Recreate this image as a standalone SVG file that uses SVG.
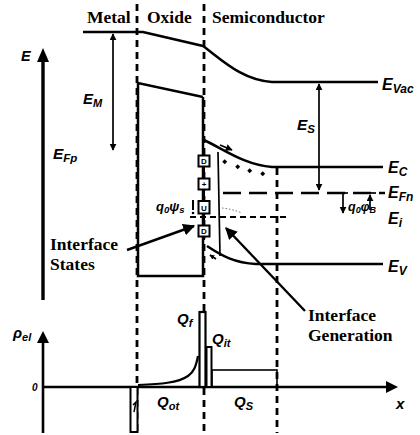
<svg xmlns="http://www.w3.org/2000/svg" width="420" height="435" viewBox="0 0 420 435">
<defs>
<marker id="ah" viewBox="0 0 10 10" refX="9" refY="5" markerWidth="7" markerHeight="7" markerUnits="userSpaceOnUse" orient="auto-start-reverse"><path d="M0,0 L10,5 L0,10 z" fill="#000"/></marker>
<marker id="ahb" viewBox="0 0 10 10" refX="9" refY="5" markerWidth="12" markerHeight="12" markerUnits="userSpaceOnUse" orient="auto-start-reverse"><path d="M0,0 L10,5 L0,10 z" fill="#000"/></marker>
<marker id="ahs" viewBox="0 0 10 10" refX="9" refY="5" markerWidth="5" markerHeight="5" markerUnits="userSpaceOnUse" orient="auto-start-reverse"><path d="M0,0 L10,5 L0,10 z" fill="#000"/></marker>
</defs>
<style>
.ser{font-family:"Liberation Serif","Times New Roman",serif;font-weight:bold;font-size:17.5px;fill:#000}
.sym{font-family:"Liberation Sans",Arial,sans-serif;font-weight:bold;font-style:italic;fill:#000}
.ln{fill:none;stroke:#000;stroke-width:2.5}
.thin{fill:none;stroke:#000;stroke-width:1.7}
.dv{fill:none;stroke:#000;stroke-width:2.8;stroke-dasharray:7,5}
.box{fill:#fff;stroke:#000;stroke-width:2}
.bt{font-family:"Liberation Sans",Arial,sans-serif;font-weight:bold;font-size:8px;fill:#000;text-anchor:middle}
</style>
<rect width="420" height="435" fill="#fff"/>

<g id="region-labels">
<text class="ser" x="87" y="23">Metal</text>
<text class="ser" x="147" y="23">Oxide</text>
<text class="ser" x="212" y="23">Semiconductor</text>
</g>

<g id="boundaries">
<line class="dv" x1="137" y1="4" x2="137" y2="433"/>
<line class="dv" x1="204" y1="4" x2="204" y2="433"/>
<line class="dv" x1="277" y1="168" x2="277" y2="433"/>
</g>

<g id="energy-axis">
<line x1="43" y1="58" x2="43" y2="300" stroke="#000" stroke-width="3.4"/>
<path d="M37,62 L43,48 L49,62 z" fill="#000"/>
<text class="sym" x="21" y="61" font-size="14.5">E</text>
</g>

<g id="vacuum-level">
<path class="ln" d="M83,32 L143,32 L203,46 C222,60 242,80 272,82 L378,82"/>
<text class="sym" x="382" y="90" font-size="16">E<tspan font-size="12" dy="3">Vac</tspan></text>
</g>

<g id="oxide-band">
<path class="ln" d="M203,97 L138,83 L138,276 L203,276 L203,97"/>
</g>

<g id="semiconductor-bands">
<path class="ln" d="M204,140 C225,150 245,165 272,167 L383,167"/>
<path class="ln" d="M207,246 C222,256 235,263 256,264 L383,264"/>
<path class="thin" d="M218,152 L220,256"/>
<line x1="223" y1="193" x2="385" y2="193" stroke="#000" stroke-width="2.4" stroke-dasharray="18,8"/>
<line x1="190" y1="217" x2="290" y2="217" stroke="#000" stroke-width="2.2" stroke-dasharray="6,4"/>
<path d="M222,208 Q232,209 242,213" fill="none" stroke="#666" stroke-width="1" stroke-dasharray="1.5,2"/>
<g fill="#000">
<rect x="223" y="160" width="3.5" height="3.5" transform="rotate(45 224.7 161.7)"/>
<rect x="236" y="165" width="3.5" height="3.5" transform="rotate(45 237.7 166.7)"/>
<rect x="248" y="169" width="3.5" height="3.5" transform="rotate(45 249.7 170.7)"/>
<rect x="261" y="172" width="3.5" height="3.5" transform="rotate(45 262.7 173.7)"/>
</g>
<line class="thin" x1="220" y1="145" x2="232" y2="150" marker-end="url(#ah)"/>
<line class="thin" x1="216" y1="259" x2="210" y2="255" marker-end="url(#ahs)"/>
<text class="sym" x="388" y="173" font-size="16">E<tspan font-size="12" dy="3">C</tspan></text>
<text class="sym" x="388" y="198" font-size="16">E<tspan font-size="12" dy="3">Fn</tspan></text>
<text class="sym" x="388" y="224" font-size="16">E<tspan font-size="12" dy="3">i</tspan></text>
<text class="sym" x="388" y="272" font-size="16">E<tspan font-size="12" dy="3">V</tspan></text>
</g>

<g id="EM">
<line class="thin" x1="113" y1="34" x2="113" y2="150" marker-start="url(#ah)" marker-end="url(#ah)"/>
<text class="sym" x="83" y="104" font-size="15">E<tspan font-size="11" dy="3">M</tspan></text>
</g>

<g id="EFp">
<text class="sym" x="53" y="159" font-size="15.5">E<tspan font-size="11.5" dy="3">Fp</tspan></text>
</g>

<g id="ES">
<line class="thin" x1="319" y1="84" x2="319" y2="190" marker-start="url(#ah)" marker-end="url(#ah)"/>
<text class="sym" x="297" y="130" font-size="15.5">E<tspan font-size="11.5" dy="3">S</tspan></text>
</g>

<g id="qphiB">
<line class="thin" x1="338" y1="193" x2="348" y2="193"/>
<line class="thin" x1="343" y1="193" x2="343" y2="213" marker-end="url(#ah)"/>
<line class="thin" x1="365" y1="193" x2="376" y2="193"/>
<line class="thin" x1="370" y1="210" x2="370" y2="195" marker-end="url(#ah)"/>
<text class="sym" x="348" y="211" font-size="12.5">q<tspan font-size="9" dy="2">0</tspan><tspan dy="-2">φ</tspan><tspan font-size="9" dy="2">B</tspan></text>
</g>

<g id="interface-states">
<line x1="204" y1="150" x2="204" y2="240" stroke="#000" stroke-width="2"/>
<rect class="box" x="198.5" y="155.5" width="11" height="11"/><text class="bt" x="204" y="164">D</text>
<rect class="box" x="198.5" y="178.5" width="11" height="11"/><text class="bt" x="204" y="187">+</text>
<rect class="box" x="198.5" y="201" width="11" height="12.5"/><text class="bt" x="204" y="210.5">U</text>
<rect class="box" x="198.5" y="225.5" width="11" height="11"/><text class="bt" x="204" y="234">D</text>
<line x1="193" y1="200" x2="193" y2="210" stroke="#000" stroke-width="2"/>
<circle cx="193" cy="213" r="1.3" fill="#000"/>
<text class="sym" x="156" y="211" font-size="13">q<tspan font-size="9.5" dy="2">0</tspan><tspan dy="-2">ψ</tspan><tspan font-size="9.5" dy="2">s</tspan></text>
</g>

<g id="interface-states-label">
<text class="ser" x="50" y="250">Interface</text>
<text class="ser" x="50" y="270">States</text>
</g>

<g id="interface-generation-label">
<text class="ser" x="308" y="321">Interface</text>
<text class="ser" x="308" y="341">Generation</text>
</g>

<g id="connectors">
<line x1="127" y1="250" x2="194" y2="226" stroke="#000" stroke-width="2.4" marker-end="url(#ahb)"/>
<line x1="305" y1="311" x2="226" y2="228" stroke="#000" stroke-width="2.4" marker-end="url(#ahb)"/>
</g>

<g id="charge-axes">
<line x1="43" y1="340" x2="43" y2="433" stroke="#000" stroke-width="2.6"/>
<path d="M37,343 L43,331 L49,343 z" fill="#000"/>
<line x1="43" y1="387" x2="390" y2="387" stroke="#000" stroke-width="2.6"/>
<path d="M386,381 L398,387 L386,393 z" fill="#000"/>
<text class="sym" x="13" y="338" font-size="15">ρ<tspan font-size="11" dy="3">el</tspan></text>
<text class="sym" x="32" y="391" font-size="10" font-style="normal">0</text>
<text class="sym" x="396" y="409" font-size="15">x</text>
</g>

<g id="charges">
<rect x="130.5" y="387" width="7" height="45" fill="#fff" stroke="#000" stroke-width="2"/>
<path d="M133,405 L136,402 L134,412" fill="none" stroke="#000" stroke-width="1.5"/>
<path d="M138,385 C160,384 178,383 188,376 C194,372 196,366 198,356" fill="none" stroke="#000" stroke-width="2.2"/>
<rect x="199.5" y="312" width="6" height="75" fill="#fff" stroke="#000" stroke-width="2.2"/>
<rect x="206.5" y="347" width="5" height="40" fill="#fff" stroke="#000" stroke-width="2"/>
<rect x="212" y="370" width="65" height="17" fill="none" stroke="#000" stroke-width="1.6"/>
<text class="sym" x="157" y="407" font-size="15">Q<tspan font-size="11" dy="3">ot</tspan></text>
<text class="sym" x="177" y="324" font-size="15">Q<tspan font-size="11" dy="3">f</tspan></text>
<text class="sym" x="212" y="344" font-size="15">Q<tspan font-size="11" dy="3">it</tspan></text>
<text class="sym" x="234" y="407" font-size="15">Q<tspan font-size="11" dy="3">S</tspan></text>
</g>
</svg>
